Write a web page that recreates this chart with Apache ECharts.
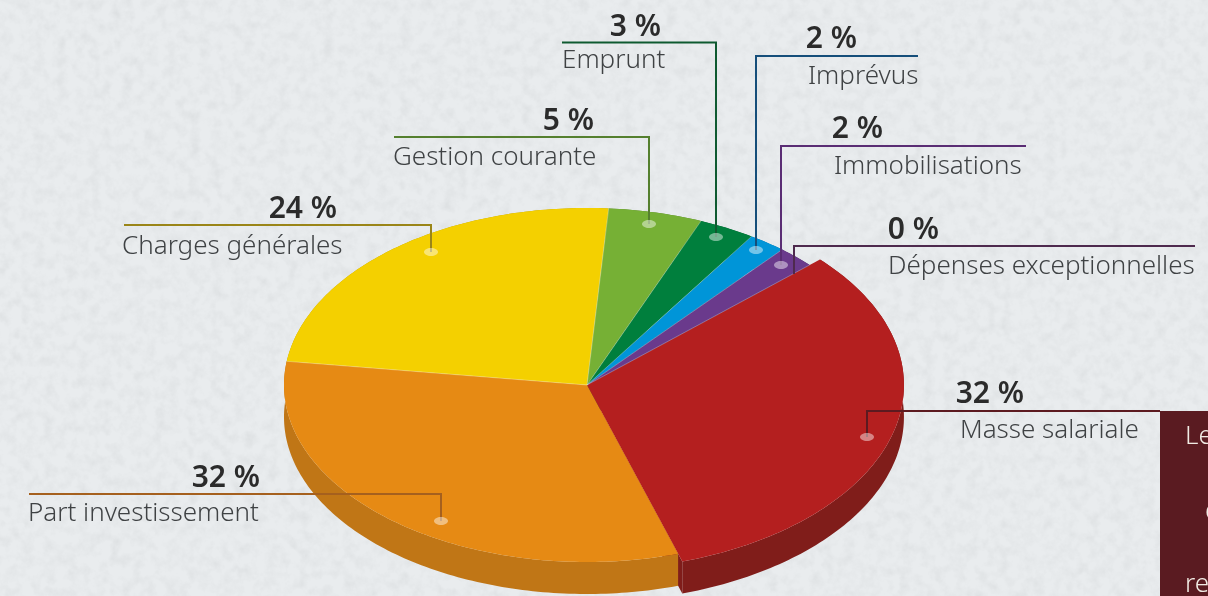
<!DOCTYPE html>
<html>
<head>
<meta charset="utf-8">
<title>Budget</title>
<script src="https://cdn.jsdelivr.net/npm/echarts@6/dist/echarts.min.js"></script>
<style>
  html, body { margin: 0; height: 100%; overflow: hidden; background-color: #e9ecee; }
  #texture { position: absolute; left: 0; top: 0; width: 1208px; height: 596px; }
  #chart { position: absolute; left: 0; top: 0; width: 1208px; height: 596px; }
</style>
</head>
<body>
<svg id="texture">
  <filter id="paper">
    <feTurbulence type="fractalNoise" baseFrequency="0.09" numOctaves="4" seed="7" />
    <feColorMatrix values="0 0 0 0 0.45  0 0 0 0 0.47  0 0 0 0 0.48  0.26 0.26 0 0 -0.22" />
  </filter>
  <rect width="1208" height="596" filter="url(#paper)" />
</svg>
<div id="chart"></div>
<script>
var categories = ['Masse salariale', 'Part investissement', 'Charges générales', 'Gestion courante', 'Emprunt', 'Imprévus', 'Immobilisations', 'Dépenses exceptionnelles']
var percents = [32, 32, 24, 5, 3, 2, 2, 0]

var topColors = ['#b41f1f', '#e68a14', '#f4d000', '#76b035', '#007f3d', '#0095d8', '#6a3a8c', '#4e2a4e']
var sideColors = ['#801d1a', '#c07616', '#b89c00', '#55802a', '#005a2b', '#006c9c', '#4c2965', '#381d38']

// pie geometry, the first slice sticks out a bit
var cx = 587
var cy = 385
var rx = 303
var ry = 177
var depth = 32
var startAngle = 42.7
var firstSliceScale = 1.046

// label x / y, and where the leader line runs: [xEnd, yLine, xDrop, yDot]
var leaders = [
  { color: '#5c1a20', pctRight: 1024, textLeft: 960, pctY: 394, textY: 431, line: [1160, 411, 867, 437], dot: true },
  { color: '#a5601e', pctRight: 260, textLeft: 28, pctY: 478, textY: 514, line: [29, 494, 441, 521], dot: true },
  { color: '#9a8518', pctRight: 337, textLeft: 122, pctY: 209, textY: 247, line: [124, 225, 431, 252], dot: true },
  { color: '#55802f', pctRight: 594, textLeft: 393, pctY: 121, textY: 158, line: [394, 137, 649, 224], dot: true },
  { color: '#0e5a30', pctRight: 661, textLeft: 562, pctY: 27, textY: 61, line: [562, 42.5, 716, 237], dot: true },
  { color: '#154e7a', pctRight: 857, textLeft: 808, pctY: 39, textY: 77, line: [918, 56, 756, 250], dot: true },
  { color: '#5a2d74', pctRight: 883, textLeft: 834, pctY: 129, textY: 167, line: [1026, 146, 781, 265], dot: true },
  { color: '#4e2a4e', pctRight: 939, textLeft: 888, pctY: 230, textY: 267, line: [1195, 246, 794, 274], dot: false }
]

var total = percents.reduce(function(a, b) { return a + b }, 0)

function sliceAngles(index) {
  var before = 0
  for (var i = 0; i < index; i++) {
    before += percents[i]
  }
  var from = startAngle - (before / total) * 360
  return [from, from - (percents[index] / total) * 360]
}

function arcPoints(from, to, scale, dy) {
  var pts = []
  var steps = Math.max(1, Math.ceil(Math.abs(from - to)))
  for (var i = 0; i <= steps; i++) {
    var a = ((from + ((to - from) * i) / steps) * Math.PI) / 180
    pts.push([cx + rx * scale * Math.cos(a), cy - ry * scale * Math.sin(a) + dy])
  }
  return pts
}

function renderSide(params, api) {
  var i = params.dataIndex
  var ang = sliceAngles(i)
  var scale = i === 0 ? firstSliceScale : 1
  var top = arcPoints(ang[0], ang[1], scale, 0)
  var bottom = arcPoints(ang[0], ang[1], scale, depth).reverse()
  var end = top[top.length - 1]
  var cut = [[cx, cy], end, [end[0], end[1] + depth], [cx, cy + depth]]
  return {
    type: 'group',
    children: [
      { type: 'polygon', shape: { points: cut }, style: { fill: sideColors[i] } },
      { type: 'polygon', shape: { points: top.concat(bottom) }, style: { fill: sideColors[i] } }
    ]
  }
}

function renderTop(params, api) {
  var i = params.dataIndex
  var ang = sliceAngles(i)
  var scale = i === 0 ? firstSliceScale : 1
  var pts = [[cx, cy]].concat(arcPoints(ang[0], ang[1], scale, 0))
  var first = pts[1]
  return {
    type: 'group',
    children: [
      { type: 'polygon', shape: { points: pts }, style: { fill: topColors[i] } },
      {
        type: 'line',
        shape: { x1: cx, y1: cy, x2: first[0], y2: first[1] },
        style: { stroke: 'rgba(255,255,255,0.3)', lineWidth: i === 0 || i === 1 ? 0 : 1 }
      }
    ]
  }
}

function annotations() {
  var out = []
  leaders.forEach(function(l, i) {
    var p = l.line
    out.push({
      type: 'polyline',
      z: 5,
      shape: { points: [[p[0], p[1]], [p[2], p[1]], [p[2], p[3]]] },
      style: { stroke: l.color, lineWidth: 2, fill: null }
    })
    if (l.dot) {
      out.push({
        type: 'ellipse',
        z: 6,
        shape: { cx: p[2], cy: p[3], rx: 7, ry: 4 },
        style: { fill: 'rgba(255,255,255,0.45)' }
      })
    }
    out.push({
      type: 'text',
      z: 7,
      style: {
        x: l.pctRight,
        y: l.pctY,
        text: percents[i] + ' %',
        font: '600 30px "Noto Sans"',
        fill: '#2b2b2b',
        textAlign: 'right',
        textVerticalAlign: 'middle'
      }
    })
    out.push({
      type: 'text',
      z: 7,
      style: {
        x: l.textLeft,
        y: l.textY,
        text: categories[i],
        font: '300 26px "Noto Sans"',
        fill: '#3f4244',
        textAlign: 'left',
        textVerticalAlign: 'middle'
      }
    })
  })
  // dark side box, cut by the edge of the picture
  out.push({ type: 'rect', z: 4, shape: { x: 1160, y: 411, width: 48, height: 185 }, style: { fill: '#5a1b21' } })
  var boxText = [['Le', 1185, 437], ['d', 1205, 512], ['re', 1185, 585]]
  boxText.forEach(function(t) {
    out.push({
      type: 'text',
      z: 7,
      style: { x: t[1], y: t[2], text: t[0], font: '300 26px "Noto Sans"', fill: '#f1ebe4', textVerticalAlign: 'middle' }
    })
  })
  return out
}

var chart = echarts.init(document.getElementById('chart'))
chart.setOption({
  backgroundColor: 'transparent',
  animation: false,
  series: [
    {
      type: 'custom',
      coordinateSystem: 'none',
      renderItem: renderSide,
      data: percents,
      z: 1,
      silent: true
    },
    {
      type: 'custom',
      coordinateSystem: 'none',
      renderItem: renderTop,
      data: percents,
      z: 2,
      silent: true
    }
  ],
  graphic: annotations()
})
</script>
</body>
</html>
